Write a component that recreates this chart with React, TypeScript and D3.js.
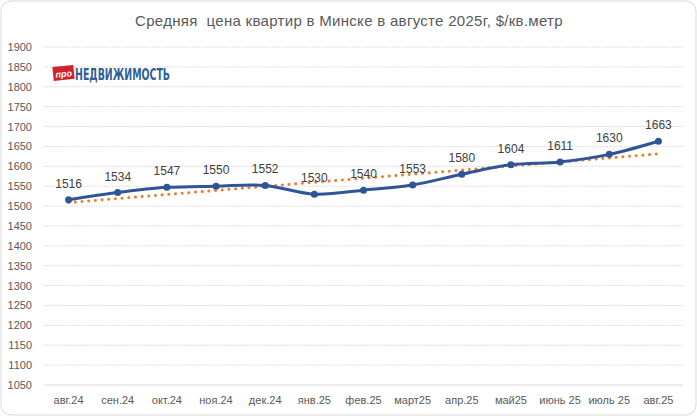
import { useEffect, useRef } from "react"
import * as d3 from "d3"

const months = [
  "авг.24", "сен.24", "окт.24", "ноя.24", "дек.24", "янв.25", "фев.25",
  "март25", "апр.25", "май25", "июнь 25", "июль 25", "авг.25",
]
const prices = [1516, 1534, 1547, 1550, 1552, 1530, 1540, 1553, 1580, 1604, 1611, 1630, 1663]
const yTicks = [1050, 1100, 1150, 1200, 1250, 1300, 1350, 1400, 1450, 1500, 1550, 1600, 1650, 1700, 1750, 1800, 1850, 1900]
const title = "Средняя  цена квартир в Минске в августе 2025г, $/кв.метр"

const W = 697
const H = 416
const FONT = "'Liberation Sans', Arial, sans-serif"

export default function App() {
  const svgRef = useRef<SVGSVGElement>(null)

  useEffect(() => {
    document.body.style.margin = "0"
    if (!svgRef.current) return
    const svg = d3.select(svgRef.current)
    svg.selectAll("*").remove()

    // frame
    svg.append("rect")
      .attr("x", 1).attr("y", 1)
      .attr("width", W - 2).attr("height", H - 2)
      .attr("rx", 10)
      .attr("fill", "#fff")
      .attr("stroke", "#d9d9d9")

    const x = d3.scaleBand<string>().domain(months).range([44, 683])
    const y = d3.scaleLinear().domain([1050, 1900]).range([385, 47])
    const cx = (i: number) => (x(months[i]) ?? 0) + x.bandwidth() / 2

    // title
    svg.append("text")
      .attr("x", 349).attr("y", 26)
      .attr("text-anchor", "middle")
      .attr("font-family", FONT)
      .attr("font-size", 15)
      .attr("letter-spacing", 0.3)
      .attr("fill", "#595959")
      .style("white-space", "pre")
      .text(title)

    // gridlines
    svg.append("g")
      .selectAll("line")
      .data(yTicks.filter(t => t > 1050))
      .enter()
      .append("line")
      .attr("x1", 44).attr("x2", 683)
      .attr("y1", d => y(d)).attr("y2", d => y(d))
      .attr("stroke", "#d9d9d9")
      .attr("stroke-dasharray", "1.5 1")

    // x axis line
    svg.append("line")
      .attr("x1", 44).attr("x2", 683)
      .attr("y1", y(1050)).attr("y2", y(1050))
      .attr("stroke", "#d9d9d9")

    // y labels
    svg.append("g")
      .selectAll("text")
      .data(yTicks)
      .enter()
      .append("text")
      .attr("x", 32)
      .attr("y", d => y(d) + 4)
      .attr("text-anchor", "end")
      .attr("font-family", FONT)
      .attr("font-size", 11)
      .attr("fill", "#595959")
      .text(d => d)

    // x labels
    svg.append("g")
      .selectAll("text")
      .data(months)
      .enter()
      .append("text")
      .attr("x", (_, i) => cx(i))
      .attr("y", 404)
      .attr("text-anchor", "middle")
      .attr("font-family", FONT)
      .attr("font-size", 11)
      .attr("fill", "#595959")
      .text(d => d)

    // logo
    const logo = svg.append("g").attr("transform", "translate(53,65)")
    logo.append("rect")
      .attr("x", 0).attr("y", 1)
      .attr("width", 21).attr("height", 14)
      .attr("fill", "#d1232a")
      .attr("transform", "rotate(-6 10 8)")
    logo.append("text")
      .attr("x", 10.5).attr("y", 12)
      .attr("text-anchor", "middle")
      .attr("font-family", FONT)
      .attr("font-style", "italic")
      .attr("font-weight", "bold")
      .attr("font-size", 9)
      .attr("fill", "#fff")
      .attr("transform", "rotate(-6 10 8)")
      .text("про")
    logo.append("text")
      .attr("x", 22).attr("y", 15)
      .attr("font-family", "'Liberation Sans Narrow', 'DejaVu Sans Condensed', sans-serif")
      .attr("font-weight", "bold")
      .attr("font-size", 16)
      .attr("fill", "#2f5f97")
      .attr("textLength", 95)
      .attr("lengthAdjust", "spacingAndGlyphs")
      .text("НЕДВИЖИМОСТЬ")

    // linear trendline
    const idx = prices.map((_, i) => i)
    const mx = d3.mean(idx) ?? 0
    const my = d3.mean(prices) ?? 0
    const sxy = d3.sum(idx, i => (i - mx) * (prices[i] - my))
    const sxx = d3.sum(idx, i => (i - mx) ** 2)
    const slope = sxy / sxx
    const icpt = my - slope * mx
    const first = 0
    const last = prices.length - 1
    svg.append("line")
      .attr("x1", cx(first)).attr("y1", y(icpt + slope * first))
      .attr("x2", cx(last)).attr("y2", y(icpt + slope * last))
      .attr("stroke", "#ed7d31")
      .attr("stroke-width", 3)
      .attr("stroke-linecap", "round")
      .attr("stroke-dasharray", "0.1 6.6")

    // main line
    const line = d3.line<number>()
      .x((_, i) => cx(i))
      .y(d => y(d))
      .curve(d3.curveCatmullRom.alpha(0))
    svg.append("path")
      .datum(prices)
      .attr("d", line)
      .attr("fill", "none")
      .attr("stroke", "#2f5597")
      .attr("stroke-width", 3)
      .attr("stroke-linejoin", "round")

    svg.append("g")
      .selectAll("circle")
      .data(prices)
      .enter()
      .append("circle")
      .attr("cx", (_, i) => cx(i))
      .attr("cy", d => y(d))
      .attr("r", 3.5)
      .attr("fill", "#2f5597")

    // data labels
    svg.append("g")
      .selectAll("text")
      .data(prices)
      .enter()
      .append("text")
      .attr("x", (_, i) => cx(i))
      .attr("y", d => y(d) - 12)
      .attr("text-anchor", "middle")
      .attr("font-family", FONT)
      .attr("font-size", 12)
      .attr("fill", "#404040")
      .text(d => d)
  }, [])

  return (
    <div style={{ width: W, height: H }}>
      <svg ref={svgRef} width={W} height={H} />
    </div>
  )
}
